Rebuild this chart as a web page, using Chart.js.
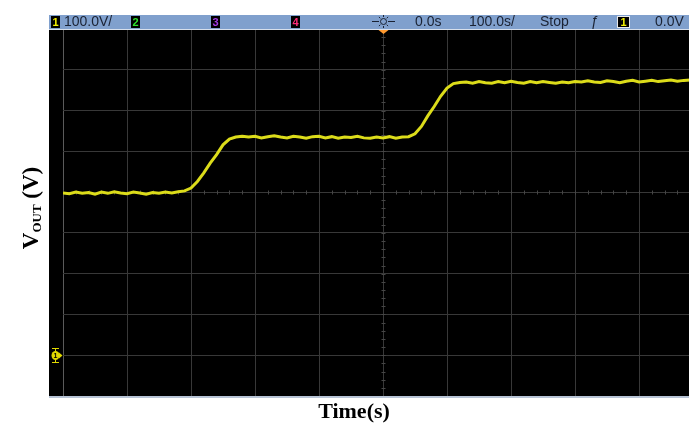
<!DOCTYPE html>
<html>
<head>
<meta charset="utf-8">
<script src="https://cdn.jsdelivr.net/npm/chart.js@4.4.1/dist/chart.umd.min.js"></script>
<style>
html, body { margin: 0; padding: 0; background: #fff; overflow: hidden; }
#wrap { position: relative; width: 704px; height: 424px; }
</style>
</head>
<body>
<div id="wrap"><canvas id="scope" width="704" height="424"></canvas></div>
<script>
// Czas (jednostki podziałki 100/div) i napięcie wyjściowe kanału 1 (V)
var times = [
    -500, -490, -480, -470, -460, -450, -440, -430, -420, -410,
    -400, -390, -380, -370, -360, -350, -340, -330, -320, -310,
    -300, -290, -280, -270, -260, -250, -240, -230, -220, -210,
    -200, -190, -180, -170, -160, -150, -140, -130, -120, -110,
    -100, -90, -80, -70, -60, -50, -40, -30, -20, -10,
    0, 10, 20, 30, 40, 50, 60, 70, 80, 90,
    100, 110, 120, 130, 140, 150, 160, 170, 180, 190,
    200, 210, 220, 230, 240, 250, 260, 270, 280, 290,
    300, 310, 320, 330, 340, 350, 360, 370, 380, 390,
    400, 410, 420, 430, 440, 450, 460, 470, 480
];
var vout = [
    398, 396, 400, 397, 399, 395, 400, 397, 401, 398,
    396, 400, 398, 395, 399, 397, 400, 398, 401, 403,
    410, 426, 447, 471, 492, 516, 530, 535, 537, 535,
    537, 533, 536, 538, 535, 533, 537, 535, 532, 536,
    537, 533, 536, 532, 535, 534, 537, 533, 532, 535,
    533, 536, 532, 535, 536, 543, 561, 587, 610, 635,
    655, 666, 669, 670, 667, 671, 668, 667, 671, 668,
    672, 669, 667, 671, 668, 671, 669, 667, 670, 668,
    671, 670, 673, 670, 669, 673, 671, 668, 672, 674,
    670, 672, 674, 671, 673, 675, 672, 674, 675
];
var xTicks = { min: -500, max: 500, step: 100 };
var yTicks = { min: -100, max: 800, step: 100 };

// Ramka oscyloskopu: tło, pasek statusu, znaczniki
var scopeFrame = {
    id: 'scopeFrame',
    beforeDraw: function(chart) {
        var ctx = chart.ctx;
        ctx.save();
        ctx.fillStyle = '#000';
        ctx.fillRect(49, 29, chart.width - 49, 367);
        ctx.restore();
    },
    beforeDatasetsDraw: function(chart) {
        // drobne znaczniki na osiach środkowych
        var ctx = chart.ctx, xs = chart.scales.x, ys = chart.scales.y;
        var yc = Math.round(ys.getPixelForValue(400)) + 0.5;
        var xc = Math.round(xs.getPixelForValue(0)) + 0.5;
        ctx.save();
        ctx.strokeStyle = '#464646';
        ctx.lineWidth = 1;
        ctx.beginPath();
        for (var t = xTicks.min; t <= xTicks.max; t += 20) {
            var px = Math.round(xs.getPixelForValue(t)) + 0.5;
            ctx.moveTo(px, yc - 2); ctx.lineTo(px, yc + 2);
        }
        for (var v = yTicks.min; v <= yTicks.max; v += 20) {
            var py = Math.round(ys.getPixelForValue(v)) + 0.5;
            ctx.moveTo(xc - 2, py); ctx.lineTo(xc + 2, py);
        }
        ctx.stroke();
        ctx.restore();
    },
    afterDraw: function(chart) {
        var ctx = chart.ctx;
        var W = chart.width;
        ctx.save();

        // pasek statusu
        ctx.fillStyle = '#80a0cd';
        ctx.fillRect(49, 15, W - 49, 14);
        ctx.fillStyle = '#d8e0ec';
        ctx.fillRect(49, 29, W - 49, 1);

        function chanBox(x, w, label, color, outline) {
            ctx.fillStyle = '#000';
            ctx.fillRect(x, 16, w, 12);
            if (outline) {
                ctx.strokeStyle = '#e8e8e8';
                ctx.lineWidth = 1;
                ctx.strokeRect(x + 0.5, 16.5, w - 1, 11);
            }
            ctx.fillStyle = color;
            ctx.font = 'bold 11px "Liberation Sans"';
            ctx.textAlign = 'center';
            ctx.textBaseline = 'middle';
            ctx.fillText(label, x + w / 2, 22.5);
        }
        chanBox(51, 9, '1', '#f2f000', false);
        chanBox(131, 9, '2', '#2ee02e', false);
        chanBox(211, 9, '3', '#a43ce6', false);
        chanBox(291, 9, '4', '#ff2a78', false);
        chanBox(617, 13, '1', '#f2f000', true);

        ctx.fillStyle = '#1a2233';
        ctx.font = '14px "Liberation Sans"';
        ctx.textAlign = 'left';
        ctx.textBaseline = 'middle';
        ctx.fillText('100.0V/', 64, 22.5);
        ctx.fillText('0.0s', 415, 22.5);
        ctx.fillText('100.0s/', 469, 22.5);
        ctx.fillText('Stop', 540, 22.5);
        ctx.fillText('ƒ', 591, 22.5);
        ctx.fillText('0.0V', 655, 22.5);

        // ikona wyzwalania
        var cx = 383.5, cy = 21.5;
        ctx.strokeStyle = '#1a2233';
        ctx.lineWidth = 1;
        ctx.beginPath();
        ctx.arc(cx, cy, 3, 0, Math.PI * 2);
        for (var k = 0; k < 8; k++) {
            var a = k * Math.PI / 4;
            ctx.moveTo(cx + Math.cos(a) * 4.5, cy + Math.sin(a) * 4.5);
            ctx.lineTo(cx + Math.cos(a) * 6.5, cy + Math.sin(a) * 6.5);
        }
        ctx.moveTo(372, cy); ctx.lineTo(377, cy);
        ctx.moveTo(390, cy); ctx.lineTo(395, cy);
        ctx.stroke();

        // znacznik punktu wyzwolenia
        var tx = Math.round(chart.scales.x.getPixelForValue(0)) + 0.5;
        ctx.fillStyle = '#ff9a30';
        ctx.beginPath();
        ctx.moveTo(tx - 5, 30); ctx.lineTo(tx + 5, 30); ctx.lineTo(tx, 34);
        ctx.closePath();
        ctx.fill();

        // znacznik masy kanału 1
        var gy = Math.round(chart.scales.y.getPixelForValue(0)) + 0.5;
        ctx.strokeStyle = '#e0d800';
        ctx.fillStyle = '#e0d800';
        ctx.beginPath();
        ctx.moveTo(52, gy - 7); ctx.lineTo(59, gy - 7);
        ctx.moveTo(55.5, gy - 7); ctx.lineTo(55.5, gy + 7);
        ctx.moveTo(52, gy + 7); ctx.lineTo(59, gy + 7);
        ctx.stroke();
        ctx.beginPath();
        ctx.ellipse(55.5, gy, 4, 4.5, 0, 0, Math.PI * 2);
        ctx.fill();
        ctx.beginPath();
        ctx.moveTo(59, gy - 3); ctx.lineTo(62.5, gy); ctx.lineTo(59, gy + 3);
        ctx.closePath();
        ctx.fill();
        ctx.fillStyle = '#000';
        ctx.font = 'bold 7px "Liberation Sans"';
        ctx.textAlign = 'center';
        ctx.fillText('1', 55.5, gy + 0.5);

        // dolna krawędź ekranu
        ctx.fillStyle = '#b8c4d6';
        ctx.fillRect(49, 396, W - 49, 2);

        // opisy osi
        ctx.fillStyle = '#000';
        ctx.textAlign = 'center';
        ctx.textBaseline = 'alphabetic';
        ctx.font = 'bold 22px "Liberation Serif"';
        ctx.fillText('Time(s)', 354, 418);

        ctx.translate(38, 208);
        ctx.rotate(-Math.PI / 2);
        var big = 'bold 23px "Liberation Serif"', small = 'bold 13px "Liberation Serif"';
        ctx.font = big; var w1 = ctx.measureText('V').width; var w3 = ctx.measureText(' (V)').width;
        ctx.font = small; var w2 = ctx.measureText('OUT').width;
        var x0 = -(w1 + w2 + w3) / 2;
        ctx.textAlign = 'left';
        ctx.font = big; ctx.fillText('V', x0, 0);
        ctx.font = small; ctx.fillText('OUT', x0 + w1, 3);
        ctx.font = big; ctx.fillText(' (V)', x0 + w1 + w2, 0);

        ctx.restore();
    }
};

var points = times.map(function(t, i) { return { x: t, y: vout[i] }; });

var ctx = document.getElementById('scope').getContext('2d');
var scopeChart = new Chart(ctx, {
    type: 'line',
    data: {
        datasets: [{
            label: 'Kanał 1',
            data: points,
            borderColor: '#dcdc1a',
            borderWidth: 3,
            pointRadius: 0,
            tension: 0,
            fill: false
        }]
    },
    options: {
        responsive: false,
        animation: false,
        layout: { padding: { left: 63, top: 29, right: 1, bottom: 28 } },
        plugins: { legend: { display: false }, tooltip: { enabled: false } },
        scales: {
            x: {
                type: 'linear',
                min: xTicks.min, max: xTicks.max,
                ticks: { display: false, stepSize: xTicks.step },
                grid: {
                    color: function(c) { return c.tick && c.tick.value === xTicks.min ? '#5a5a5a' : '#383838'; },
                    drawTicks: false
                },
                border: { display: false }
            },
            y: {
                type: 'linear',
                min: yTicks.min, max: yTicks.max,
                ticks: { display: false, stepSize: yTicks.step },
                grid: { color: '#383838', drawTicks: false },
                border: { display: false }
            }
        }
    },
    plugins: [scopeFrame]
});
</script>
</body>
</html>
